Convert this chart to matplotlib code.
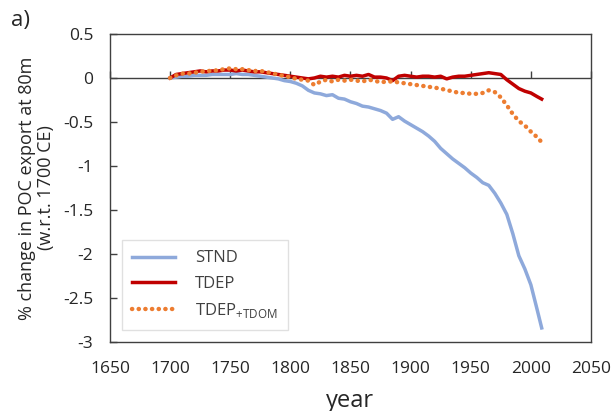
import numpy as np
import matplotlib
matplotlib.use('Agg')
import matplotlib.pyplot as plt

plt.rcParams['font.family'] = ['Open Sans', 'DejaVu Sans']
plt.rcParams['mathtext.fontset'] = 'custom'
plt.rcParams['mathtext.rm'] = 'Open Sans'

# years of the model output (last point 2009)
years = list(range(1700, 2006, 5)) + [2009]

stnd = [0.00, 0.01, 0.02, 0.02, 0.03, 0.03, 0.03, 0.04, 0.04, 0.04,
        0.04, 0.05, 0.04, 0.04, 0.03, 0.02, 0.01, 0.00, -0.01, -0.03,
        -0.04, -0.06, -0.09, -0.14, -0.17, -0.18, -0.20, -0.19, -0.23, -0.24,
        -0.27, -0.29, -0.32, -0.33, -0.35, -0.37, -0.40, -0.47, -0.44, -0.49,
        -0.53, -0.57, -0.61, -0.66, -0.72, -0.80, -0.86, -0.92, -0.97, -1.02,
        -1.08, -1.13, -1.19, -1.22, -1.31, -1.42, -1.55, -1.77, -2.02, -2.17,
        -2.35, -2.62, -2.84]

tdep = [0.00, 0.04, 0.05, 0.06, 0.07, 0.08, 0.07, 0.08, 0.08, 0.09,
        0.09, 0.08, 0.09, 0.08, 0.07, 0.07, 0.06, 0.05, 0.04, 0.03,
        0.02, 0.01, 0.00, -0.01, 0.00, 0.02, 0.01, 0.02, 0.01, 0.03,
        0.02, 0.03, 0.02, 0.04, 0.01, 0.01, 0.00, -0.03, 0.02, 0.03,
        0.02, 0.01, 0.02, 0.02, 0.01, 0.02, -0.01, 0.01, 0.02, 0.02,
        0.03, 0.04, 0.05, 0.06, 0.05, 0.04, -0.02, -0.07, -0.12, -0.15,
        -0.17, -0.21, -0.24]

tdom = [0.00, 0.03, 0.05, 0.05, 0.06, 0.07, 0.08, 0.08, 0.09, 0.10,
        0.11, 0.10, 0.10, 0.09, 0.08, 0.08, 0.07, 0.05, 0.04, 0.02,
        0.01, -0.01, -0.02, -0.03, -0.08, -0.04, -0.02, -0.04, -0.02, -0.03,
        -0.02, -0.03, -0.04, -0.02, -0.03, -0.05, -0.04, -0.04, -0.05, -0.06,
        -0.07, -0.08, -0.09, -0.10, -0.11, -0.12, -0.14, -0.15, -0.17, -0.17,
        -0.18, -0.18, -0.17, -0.14, -0.16, -0.22, -0.31, -0.41, -0.49, -0.54,
        -0.61, -0.67, -0.73]

fig = plt.figure(figsize=(6.13, 4.11), dpi=100)
ax = fig.add_axes([0.1794, 0.1679, 0.7847, 0.7494])

ax.plot(years, stnd, color='#8EA9DB', lw=2.5, label='STND', zorder=3)
ax.plot(years, tdep, color='#C00000', lw=2.5, label='TDEP', zorder=4)
ax.plot(years, tdom, color='#ED7D31', lw=3.2, linestyle=(0, (0.05, 1.45)),
        dash_capstyle='round', label=r'TDEP$_{\mathregular{+TDOM}}$', zorder=5)

ax.axhline(0, color='#404040', lw=1.0, zorder=2)

ax.set_xlim(1650, 2050)
ax.set_ylim(-3, 0.5)
ax.set_xticks(np.arange(1650, 2051, 50))
ax.set_yticks(np.arange(-3, 0.51, 0.5))
ax.set_yticklabels(['-3', '-2.5', '-2', '-1.5', '-1', '-0.5', '0', '0.5'])
ax.tick_params(axis='x', length=0, labelsize=12.5, pad=14)
ax.tick_params(axis='y', direction='in', length=5, width=1, labelsize=12.5,
               colors='#404040', pad=12)
for lbl in ax.get_xticklabels() + ax.get_yticklabels():
    lbl.set_color('#262626')

# tick marks sitting on the zero line, as in the spreadsheet chart
sec = ax.secondary_xaxis(0, transform=ax.transData)
sec.set_xticks(np.arange(1650, 2051, 50))
sec.tick_params(direction='in', length=5, width=1, colors='#404040', labelbottom=False)
sec.spines['bottom'].set_visible(False)

for s in ax.spines.values():
    s.set_color('#404040')
    s.set_linewidth(1.0)

ax.set_xlabel('year', fontsize=17, color='#262626', labelpad=8)
ax.set_ylabel('% change in POC export at 80m\n(w.r.t. 1700 CE)', fontsize=13,
              color='#262626', labelpad=6, linespacing=1.05)

fig.text(0.018, 0.95, 'a)', fontsize=16, color='#262626', va='center')

leg = ax.legend(loc='lower left', bbox_to_anchor=(0.025, 0.04), fontsize=12,
                frameon=True, fancybox=False, edgecolor='#d9d9d9',
                handlelength=2.6, handletextpad=1.2, borderpad=0.6,
                labelspacing=0.55, borderaxespad=0)
leg.get_frame().set_linewidth(1.0)
for t in leg.get_texts():
    t.set_color('#404040')

fig.savefig('out.png', dpi=100)
